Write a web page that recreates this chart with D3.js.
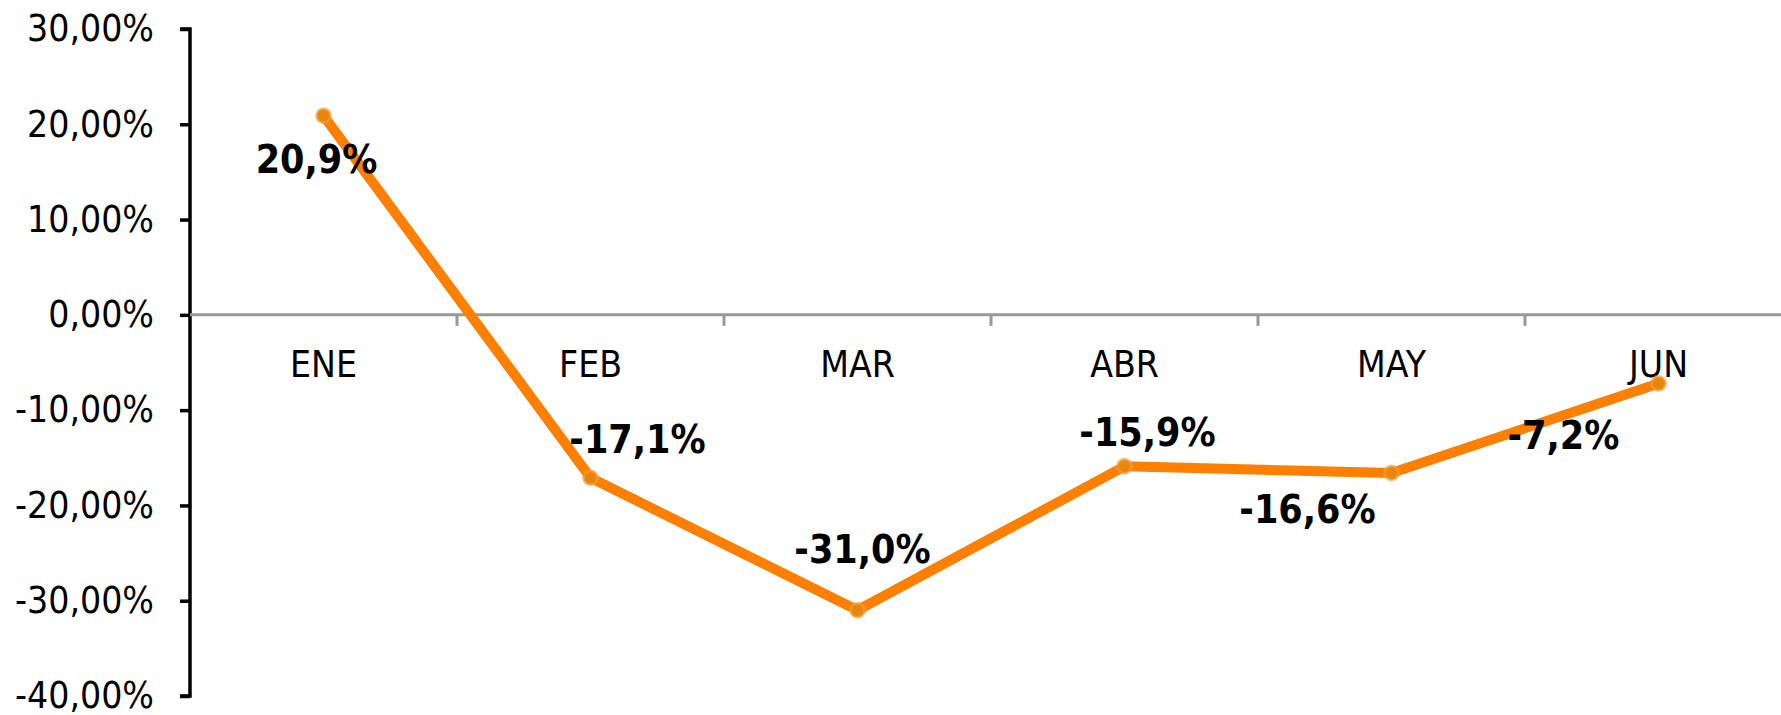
<!DOCTYPE html>
<html>
<head>
<meta charset="utf-8">
<script src="https://cdn.jsdelivr.net/npm/d3@7"></script>
<style>
  html, body { margin: 0; padding: 0; background: #fff; }
  svg { display: block; }
  .lbl { font-family: "DejaVu Sans Condensed", "DejaVu Sans", sans-serif; font-stretch: condensed; }
</style>
</head>
<body>
<div id="chart"></div>
<script>
(function () {
  "use strict";

  // data
  var months = ["ENE", "FEB", "MAR", "ABR", "MAY", "JUN"];
  var values = [20.9, -17.1, -31.0, -15.9, -16.6, -7.2];
  var yTicks = [30, 20, 10, 0, -10, -20, -30, -40];

  // layout
  var W = 1781, H = 715;
  var PLOT = { left: 190, right: 1792, top: 29, bottom: 696 };
  // data label offsets from the point, in px [dx, dy]
  var labelOffsets = [[-7, 57], [47, -25], [5, -47], [23, -20], [-84, 50], [-95, 66]];

  var locale = d3.formatLocale({ decimal: ",", thousands: ".", grouping: [3], currency: ["", "€"], minus: "-" });
  var fmtAxis = locale.format(".2f");
  var fmtLabel = locale.format(".1f");

  var svg = d3.select("#chart").append("svg")
    .attr("width", W).attr("height", H);

  var x = d3.scaleBand().domain(months).range([PLOT.left, PLOT.right]).padding(0);
  var y = d3.scaleLinear().domain([-40, 30]).range([PLOT.bottom, PLOT.top]);

  // y axis
  var yAxis = svg.append("g")
    .attr("transform", "translate(" + PLOT.left + ",0)")
    .call(d3.axisLeft(y).tickValues(yTicks).tickSize(10).tickPadding(26)
      .tickFormat(function (d) { return fmtAxis(d) + "%"; }));
  yAxis.select(".domain").attr("stroke", "#000").attr("stroke-width", 3.5)
    .attr("d", "M-10," + y(30) + "H0V" + y(-40) + "H-10");
  yAxis.selectAll(".tick line").attr("stroke", "#000").attr("stroke-width", 3.5);
  yAxis.selectAll(".tick text")
    .attr("class", "lbl")
    .attr("fill", "#000")
    .style("font-size", "37px");

  // zero line with category ticks
  var y0 = y(0);
  svg.append("line")
    .attr("x1", PLOT.left).attr("x2", W)
    .attr("y1", y0).attr("y2", y0)
    .attr("stroke", "#999").attr("stroke-width", 3);
  svg.append("g").selectAll("line")
    .data(months.slice(1))
    .join("line")
    .attr("x1", function (d) { return x(d); })
    .attr("x2", function (d) { return x(d); })
    .attr("y1", y0).attr("y2", y0 + 11)
    .attr("stroke", "#999").attr("stroke-width", 3);

  // category labels
  var xAxis = svg.append("g")
    .attr("transform", "translate(0," + y0 + ")")
    .call(d3.axisBottom(x).tickSize(0).tickPadding(36));
  xAxis.select(".domain").remove();
  xAxis.selectAll(".tick text")
    .attr("class", "lbl")
    .attr("fill", "#000")
    .style("font-size", "37px");

  // line
  var line = d3.line()
    .x(function (d, i) { return x(months[i]) + x.bandwidth() / 2; })
    .y(function (d) { return y(d); });

  svg.append("path")
    .datum(values)
    .attr("d", line)
    .attr("fill", "none")
    .attr("stroke", "#ff7f00")
    .attr("stroke-width", 10)
    .attr("stroke-linejoin", "round");

  // markers
  svg.append("g").selectAll("circle")
    .data(values)
    .join("circle")
    .attr("cx", function (d, i) { return x(months[i]) + x.bandwidth() / 2; })
    .attr("cy", function (d) { return y(d); })
    .attr("r", 7)
    .attr("fill", "#e9840c")
    .attr("stroke", "#f4a040")
    .attr("stroke-opacity", 0.6)
    .attr("stroke-width", 3);

  // data labels
  svg.append("g").selectAll("text")
    .data(values)
    .join("text")
    .attr("class", "lbl")
    .attr("x", function (d, i) { return x(months[i]) + x.bandwidth() / 2 + labelOffsets[i][0]; })
    .attr("y", function (d, i) { return y(d) + labelOffsets[i][1]; })
    .attr("text-anchor", "middle")
    .attr("fill", "#000")
    .style("font-size", "39px")
    .style("font-weight", "bold")
    .text(function (d) { return fmtLabel(d) + "%"; });
})();
</script>
</body>
</html>
